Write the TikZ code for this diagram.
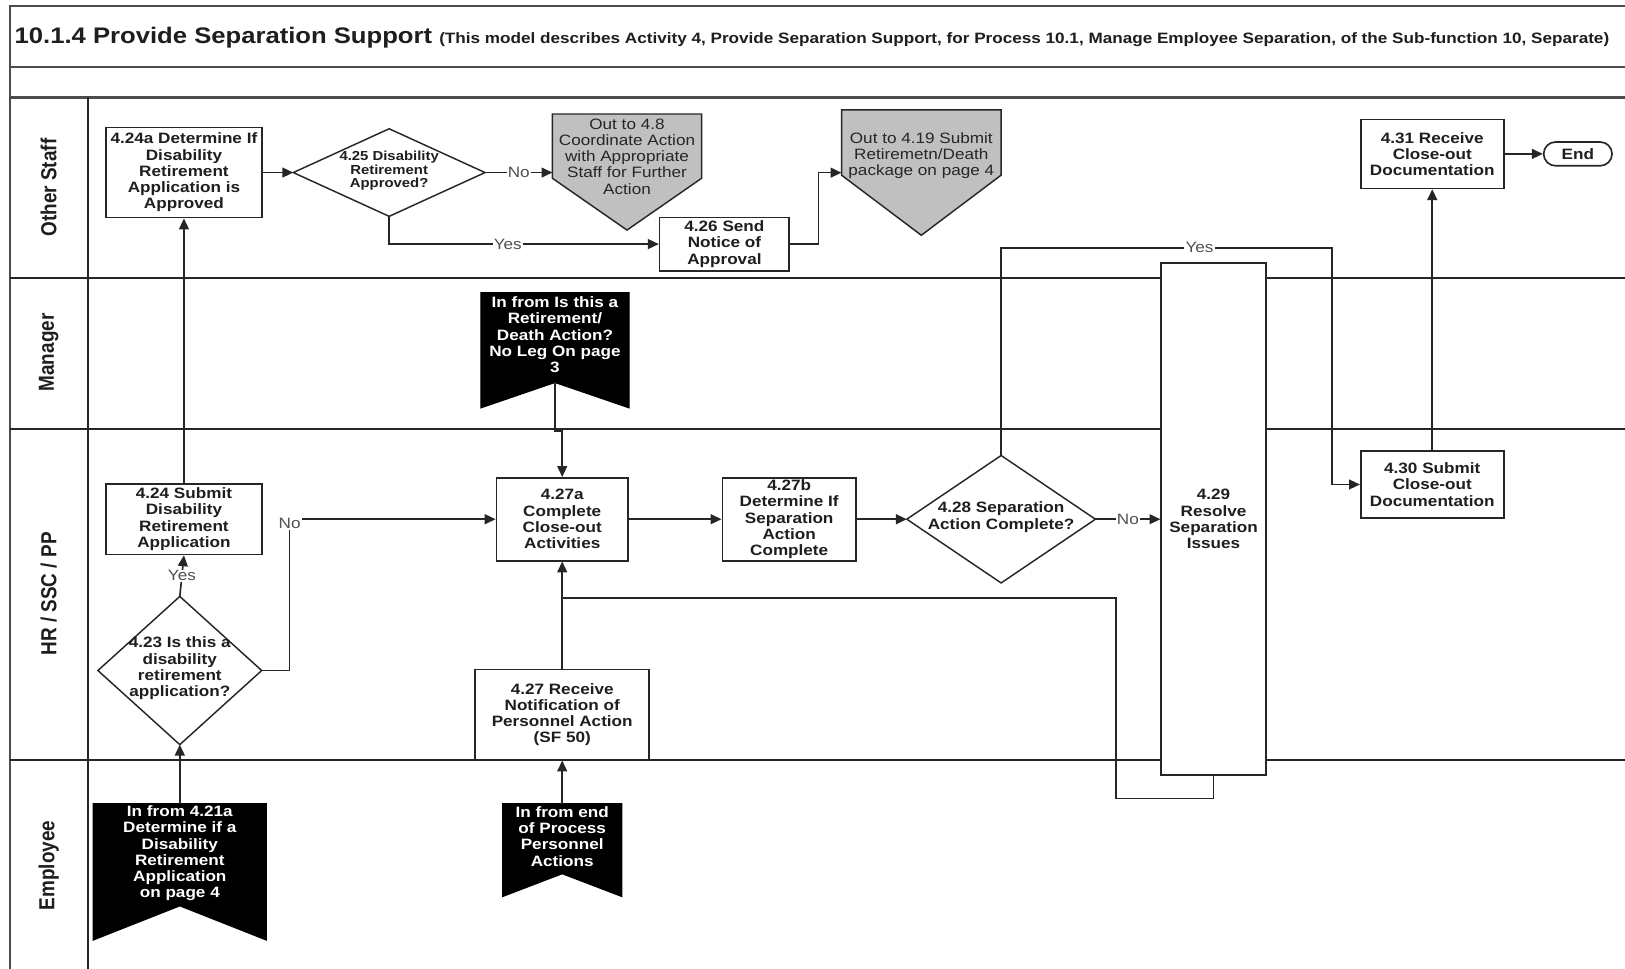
\documentclass[tikz,border=0pt]{standalone}
\usepackage{fontspec}
\setmainfont{Liberation Sans}[FakeStretch=1.14]
\newfontfamily\lanefont{Liberation Sans}[FakeStretch=0.87]
\usetikzlibrary{arrows.meta,shapes.geometric}
\definecolor{offgray}{HTML}{C0C0C0}
\definecolor{inkgray}{HTML}{1E1E1E}
\definecolor{lblgray}{HTML}{505050}
\definecolor{linegray}{HTML}{262626}
\begin{document}
\begin{tikzpicture}[x=1pt,y=-1pt,
  frame/.style={line width=2.4pt, draw=black!70},
  lane/.style={line width=1.7pt, draw=linegray},
  box/.style={draw=linegray, line width=1.6pt, fill=white, inner sep=0pt, align=center,
    font=\fontsize{14.5}{15.7}\selectfont\bfseries, text=inkgray},
  txt/.style={inner sep=0pt, align=center, font=\fontsize{14.5}{15.7}\selectfont\bfseries, text=inkgray},
  smalltxt/.style={inner sep=0pt, align=center, font=\fontsize{12.6}{13}\selectfont\bfseries, text=inkgray},
  dia/.style={diamond, draw=linegray, line width=1.4pt, fill=white, inner sep=0pt, outer sep=0pt},
  outshape/.style={draw=linegray, line width=1.4pt, fill=offgray},
  outtxt/.style={inner sep=0pt, align=center, font=\fontsize{14.5}{15.7}\selectfont, text=black!85},
  inshape/.style={draw=black, line width=1.2pt, fill=black},
  intxt/.style={inner sep=0pt, align=center, font=\fontsize{14.5}{15.7}\selectfont\bfseries, text=white},
  conn/.style={line width=1.6pt, draw=linegray},
  arr/.style={conn, -{Triangle[length=10.5pt,width=9.5pt]}},
  yn/.style={fill=white, inner sep=1pt, font=\fontsize{14.5}{15.7}\selectfont, text=lblgray},
  lanelbl/.style={rotate=90, inner sep=0pt, font=\lanefont\fontsize{21}{21}\selectfont\bfseries, text=inkgray},
]
\useasboundingbox (0,0) rectangle (1568,935);
\clip (0,0) rectangle (1568,935);
\fill[white] (0,0) rectangle (1568,935);

% ---------- frame and swimlanes ----------
\draw[frame] (9.5,1000) -- (9.5,6) -- (1600,6);
\draw[frame] (9.5,64.5) -- (1600,64.5);
\draw[frame] (9.5,94) -- (1600,94);
\draw[lane] (85,94) -- (85,1000);
\draw[lane] (9.5,268.5) -- (1600,268.5);
\draw[lane] (9.5,414) -- (1600,414);
\draw[lane] (9.5,733) -- (1600,733);

\node[anchor=base west, inner sep=0pt, text=inkgray] (title) at (14,42)
  {\fontsize{21.7}{24}\selectfont\bfseries 10.1.4 Provide Separation Support
   \fontsize{14.5}{16}\selectfont (This model describes Activity 4, Provide Separation Support, for Process 10.1, Manage Employee Separation, of the Sub-function 10, Separate)};

\node[lanelbl] (lnother) at (47,181) {Other Staff};
\node[lanelbl] (lnmgr)   at (47,340) {Manager};
\node[lanelbl] (lnhr)    at (47,573) {HR / SSC / PP};
\node[lanelbl] (lnemp)   at (47,835) {Employee};

% ---------- off-page references ----------
% out to 4.8
\draw[outshape] (533,110) -- (677,110) -- (677,172) -- (605,222) -- (533,172) -- cycle;
\node[outtxt] (o48) at (605,151) {Out to 4.8\\Coordinate Action\\with Appropriate\\Staff for Further\\Action};
\coordinate (o48-in) at (533,172);
% out to 4.19
\draw[outshape] (812,106) -- (966,106) -- (966,169) -- (889,227) -- (812,169) -- cycle;
\node[outtxt] (o419) at (889,150) {Out to 4.19 Submit\\Retiremetn/Death\\package on page 4};
\coordinate (o419-in) at (812,166.6);
% in from retirement/death action
\draw[inshape] (464,282.5) -- (607,282.5) -- (607,393.5) -- (535.5,369) -- (464,393.5) -- cycle;
\node[intxt] (inret) at (535.5,323) {In from Is this a\\Retirement/\\Death Action?\\No Leg On page\\3};
\coordinate (inret-out) at (535.5,369);
% in from 4.21a
\draw[inshape] (90,775.5) -- (257,775.5) -- (257,907) -- (173.5,874) -- (90,907) -- cycle;
\node[intxt] (in421) at (173.5,823.5) {In from 4.21a\\Determine if a\\Disability\\Retirement\\Application\\on page 4};
\coordinate (in421-out) at (173.5,775.5);
% in from end of process personnel actions
\draw[inshape] (485,775.5) -- (600,775.5) -- (600,865) -- (542.5,843) -- (485,865) -- cycle;
\node[intxt] (inend) at (542.5,807) {In from end\\of Process\\Personnel\\Actions};
\coordinate (inend-out) at (542.5,775.5);

% ---------- activities ----------
\node[box, minimum width=151, minimum height=87] (b424a) at (177.5,166.5)
  {4.24a Determine If\\Disability\\Retirement\\Application is\\Approved};
\node[dia, minimum width=185, minimum height=84.5] (d425) at (375.5,166.5) {};
\node[smalltxt] (d425t) at (375.5,165) {4.25 Disability\\Retirement\\Approved?};
\node[box, minimum width=125, minimum height=51.5] (b426) at (699,235.5)
  {4.26 Send\\Notice of\\Approval};
\node[box, minimum width=138, minimum height=66.5] (b431) at (1382,148.5)
  {4.31 Receive\\Close-out\\Documentation};
\node[box, rounded corners=11.5pt, minimum width=66, minimum height=23] (endn) at (1522.5,148.5) {End};

\node[box, minimum width=151, minimum height=68] (b424) at (177.5,501)
  {4.24 Submit\\Disability\\Retirement\\Application};
\node[dia, minimum width=158, minimum height=143] (d423) at (173.5,647) {};
\node[txt] (d423t) at (173.5,645) {4.23 Is this a\\disability\\retirement\\application?};
\node[box, minimum width=127, minimum height=80] (b427a) at (542.5,501)
  {4.27a\\Complete\\Close-out\\Activities};
\node[box, minimum width=129, minimum height=80] (b427b) at (761.5,501)
  {4.27b\\Determine If\\Separation\\Action\\Complete};
\node[dia, minimum width=182, minimum height=123] (d428) at (966,501) {};
\node[txt] (d428t) at (966,499) {4.28 Separation\\Action Complete?};
\node[box, minimum width=101, minimum height=494] (b429) at (1171,501)
  {4.29\\Resolve\\Separation\\Issues};
\node[box, minimum width=138, minimum height=65] (b430) at (1382,467.5)
  {4.30 Submit\\Close-out\\Documentation};
\node[box, minimum width=168, minimum height=87] (b427) at (542.5,689.5)
  {4.27 Receive\\Notification of\\Personnel Action\\(SF 50)};

% ---------- connectors ----------
\coordinate (noCorner) at (279.5,501);
\coordinate (yesRight) at (1285,239);
\coordinate (loopLeft) at (1077,577.3);

\draw[arr] (in421-out) -- (d423.south);
\draw[arr] (d423.north) -- node[yn]{Yes} (b424.south);
\draw[arr] (d423.east) -| (noCorner) node[yn, yshift=-4pt]{No} -- (b427a.west);
\draw[arr] (b424.north) -- (b424a.south);
\draw[arr] (b424a.east) -- (d425.west);
\draw[arr] (d425.east) -- node[yn]{No} (d425.east -| o48-in);
\draw[arr] (d425.south) |- node[yn, pos=0.72]{Yes} (b426.west);
\draw[arr] (b426.east) -- ++(27.5,0) |- (o419-in);
\draw[arr] (inret-out) -- ++(0,47) -| (b427a.north);
\draw[arr] (inend-out) -- (b427.south);
\draw[arr] (b427.north) -- (b427a.south);
\draw[arr] (b427a.east) -- (b427b.west);
\draw[arr] (b427b.east) -- (d428.west);
\draw[arr] (d428.east) -- node[yn]{No} (d428.east -| b429.west);
\draw[arr] (d428.north) |- node[yn, pos=0.8]{Yes} (yesRight) |- (b430.west);
\draw[conn] (b429.south) -- ++(0,21.6) -| (loopLeft) -- (b427a.south |- loopLeft);
\draw[arr] (b430.north) -- (b431.south);
\draw[arr] (b431.east) -- (endn.west);
\end{tikzpicture}
\end{document}
